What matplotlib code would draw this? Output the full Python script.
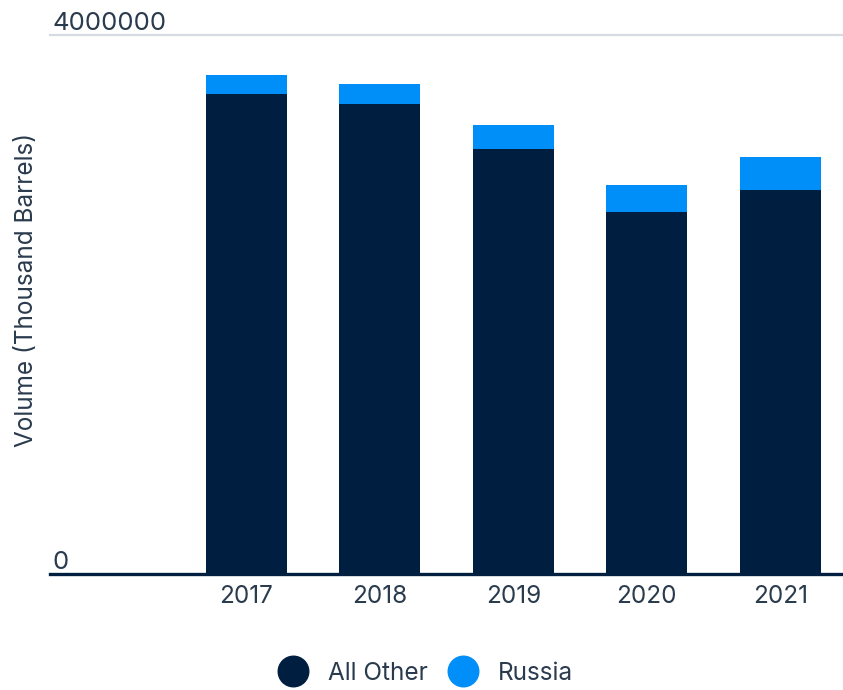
import matplotlib
matplotlib.use('Agg')
import matplotlib.pyplot as plt
from matplotlib.lines import Line2D
from matplotlib.transforms import blended_transform_factory
import numpy as np

years = ['2017', '2018', '2019', '2020', '2021']
all_other = [3561000, 3489000, 3151000, 2684000, 2854000]
russia = [141000, 144000, 185000, 200000, 240000]
y_ticks = [0, 4000000]

navy = '#001f40'
blue = '#008ff8'
text_color = '#2a3b4e'

plt.rcParams['font.family'] = ['Inter', 'DejaVu Sans']

fig = plt.figure(figsize=(8.43, 6.90), dpi=100)
ax = fig.add_axes([50 / 843, (690 - 574.3) / 690, 793 / 843, (574.3 - 35) / 690])

index = np.arange(len(years))
bar_width = 0.61

ax.bar(index, all_other, bar_width, color=navy, label='All Other', zorder=2)
ax.bar(index, russia, bar_width, bottom=all_other, color=blue, label='Russia', zorder=2)

ax.set_xlim(-1.47, 4.47)
ax.set_ylim(0, 4000000)

for side in ['top', 'right', 'left']:
    ax.spines[side].set_visible(False)
ax.spines['bottom'].set_color(navy)
ax.spines['bottom'].set_linewidth(2.4)
ax.spines['bottom'].set_zorder(3)

ax.axhline(4000000, color='#d6dbe1', linewidth=1.6, zorder=1, clip_on=False)

ax.set_yticks([])
trans = blended_transform_factory(ax.transAxes, ax.transData)
for val in y_ticks:
    ax.text(0.003, val, str(val), transform=trans, ha='left', va='bottom',
            fontsize=18.5, color=text_color)

ax.set_xticks(index)
ax.set_xticklabels(years, fontsize=17.5, color=text_color)
ax.tick_params(axis='x', length=0, pad=8)

ax.set_ylabel('Volume (Thousand Barrels)', fontsize=17.5, color=text_color)
ax.yaxis.set_label_coords(-0.015, 0.527)

handles = [Line2D([], [], linestyle='none', marker='o', markersize=22, color=navy),
           Line2D([], [], linestyle='none', marker='o', markersize=22, color=blue)]
fig.legend(handles, ['All Other', 'Russia'], loc='center', bbox_to_anchor=(0.503, 1 - 673 / 690),
           ncol=2, frameon=False, fontsize=17.5, labelcolor=text_color,
           handletextpad=0.7, columnspacing=0.7, handlelength=1.5)

plt.savefig('out.png', dpi=100)
